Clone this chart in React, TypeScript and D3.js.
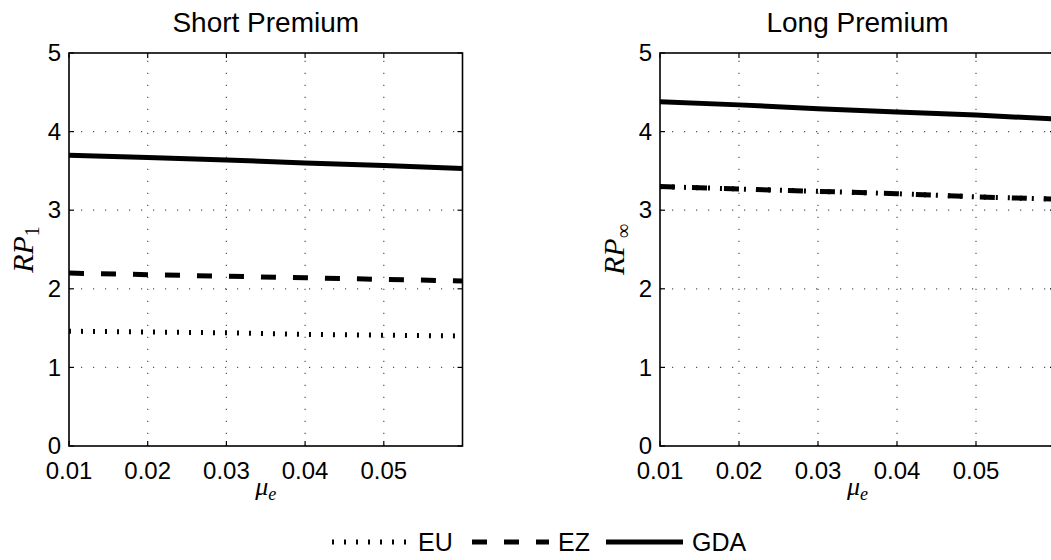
import React from "react";
import * as d3 from "d3";

// mu_e values
const muE = [0.01, 0.02, 0.03, 0.04, 0.05, 0.06];
const xTicks = [0.01, 0.02, 0.03, 0.04, 0.05];
const yTicks = [0, 1, 2, 3, 4, 5];

// Short premium RP_1
const shortEU = [1.46, 1.45, 1.44, 1.42, 1.41, 1.4];
const shortEZ = [2.2, 2.18, 2.16, 2.14, 2.12, 2.1];
const shortGDA = [3.7, 3.67, 3.64, 3.6, 3.57, 3.53];

// Long premium RP_inf
const longEU = [3.3, 3.27, 3.24, 3.21, 3.17, 3.14];
const longEZ = [3.3, 3.27, 3.24, 3.21, 3.17, 3.14];
const longGDA = [4.38, 4.34, 4.29, 4.25, 4.21, 4.16];

const W = 1051;
const H = 560;
const SANS = "'Liberation Sans', Arial, Helvetica, sans-serif";
const SERIF = "'Liberation Serif', 'Times New Roman', serif";

const STYLES = {
  EU: { width: 5, dash: "2 10" },
  EZ: { width: 5, dash: "15 17" },
  GDA: { width: 5, dash: undefined },
};

type Series = { name: "EU" | "EZ" | "GDA"; values: number[] };

const Panel = ({ x0, x1, title, sub, series }: { x0: number; x1: number; title: string; sub: string; series: Series[] }) => {
  const xScale = d3.scaleLinear().domain([0.01, 0.06]).range([x0, x1]);
  const yScale = d3.scaleLinear().domain([0, 5]).range([446, 53]);
  const line = d3
    .line<number>()
    .x((_, i) => xScale(muE[i]))
    .y((d) => yScale(d));
  const top = yScale(5);
  const bottom = yScale(0);
  const cx = (x0 + x1) / 2;
  const tickLen = 5;

  return (
    <g>
      {/* grid */}
      {yTicks.slice(1, -1).map((t) => (
        <line key={"gy" + t} x1={x0} x2={x1} y1={yScale(t)} y2={yScale(t)} stroke="#555" strokeWidth={1.2} strokeDasharray="1.2 10.8" />
      ))}
      {xTicks.slice(1).map((t) => (
        <line key={"gx" + t} x1={xScale(t)} x2={xScale(t)} y1={bottom} y2={top} stroke="#555" strokeWidth={1.2} strokeDasharray="1.2 10.8" />
      ))}
      {/* series */}
      {series.map((s) => (
        <path
          key={s.name}
          d={line(s.values) || ""}
          fill="none"
          stroke="#000"
          strokeWidth={STYLES[s.name].width}
          strokeDasharray={STYLES[s.name].dash}
        />
      ))}
      {/* box */}
      <rect x={x0} y={top} width={x1 - x0} height={bottom - top} fill="none" stroke="#000" strokeWidth={1.6} />
      {/* ticks */}
      {xTicks.map((t) => (
        <g key={"tx" + t}>
          <line x1={xScale(t)} x2={xScale(t)} y1={bottom} y2={bottom - tickLen} stroke="#000" strokeWidth={1.2} />
          <line x1={xScale(t)} x2={xScale(t)} y1={top} y2={top + tickLen} stroke="#000" strokeWidth={1.2} />
          <text x={xScale(t)} y={479} textAnchor="middle" fontFamily={SANS} fontSize={24}>
            {d3.format(".2f")(t)}
          </text>
        </g>
      ))}
      {yTicks.map((t) => (
        <g key={"ty" + t}>
          <line x1={x0} x2={x0 + tickLen} y1={yScale(t)} y2={yScale(t)} stroke="#000" strokeWidth={1.2} />
          <line x1={x1} x2={x1 - tickLen} y1={yScale(t)} y2={yScale(t)} stroke="#000" strokeWidth={1.2} />
          <text x={x0 - 8} y={yScale(t)} dy="0.34em" textAnchor="end" fontFamily={SANS} fontSize={24}>
            {t}
          </text>
        </g>
      ))}
      {/* title */}
      <text x={cx} y={32} textAnchor="middle" fontFamily={SANS} fontSize={28}>
        {title}
      </text>
      {/* x label */}
      <text x={cx} y={495} textAnchor="middle" fontFamily={SERIF} fontSize={26} fontStyle="italic">
        μ
        <tspan fontSize={18} dy={5}>
          e
        </tspan>
      </text>
      {/* y label */}
      <text
        transform={`translate(${x0 - 36},${yScale(2.5)}) rotate(-90)`}
        textAnchor="middle"
        fontFamily={SERIF}
        fontSize={30}
        fontStyle="italic"
      >
        RP
        <tspan fontSize={20} fontStyle="normal" dy={6}>
          {sub}
        </tspan>
      </text>
    </g>
  );
};

const legendItems: Series["name"][] = ["EU", "EZ", "GDA"];
const legendX = [332, 472, 606];

export default function App() {
  return (
    <svg width={W} height={H} style={{ position: "absolute", left: 0, top: 0, background: "#fff" }}>
      <Panel
        x0={69}
        x1={462.5}
        title="Short Premium"
        sub="1"
        series={[
          { name: "EU", values: shortEU },
          { name: "EZ", values: shortEZ },
          { name: "GDA", values: shortGDA },
        ]}
      />
      <Panel
        x0={660}
        x1={1055}
        title="Long Premium"
        sub="∞"
        series={[
          { name: "EU", values: longEU },
          { name: "EZ", values: longEZ },
          { name: "GDA", values: longGDA },
        ]}
      />
      {/* legend */}
      {legendItems.map((name, i) => (
        <g key={name}>
          <line
            x1={legendX[i]}
            x2={legendX[i] + 77}
            y1={542}
            y2={542}
            stroke="#000"
            strokeWidth={5}
            strokeDasharray={STYLES[name].dash}
          />
          <text x={legendX[i] + 86} y={551} fontFamily={SANS} fontSize={25}>
            {name}
          </text>
        </g>
      ))}
    </svg>
  );
}
